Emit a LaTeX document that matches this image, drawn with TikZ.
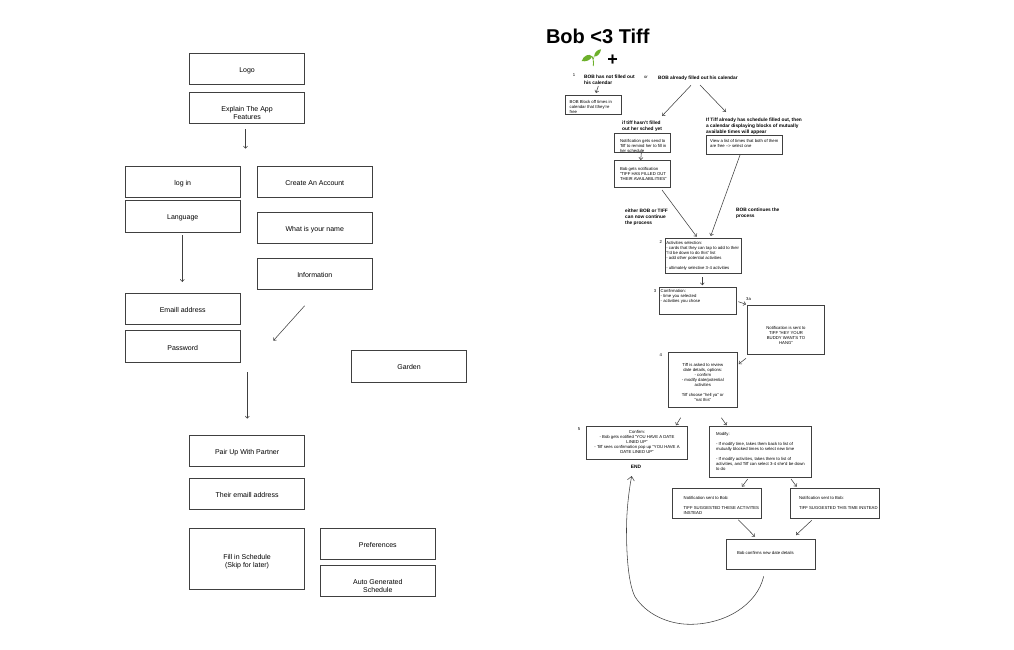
\documentclass[tikz,border=0pt]{standalone}
\usepackage{fontspec}
\setmainfont{Liberation Sans}
\usetikzlibrary{arrows.meta}
\definecolor{boxline}{HTML}{404040}
\definecolor{sprout}{HTML}{6DB02B}
\newcommand\bigf{\fontsize{7}{8}\selectfont}
\newcommand\smf{\fontsize{4.25}{5}\selectfont}
\newcommand\bdf{\fontsize{4.8}{6}\selectfont\bfseries}
\newcommand\lft[1]{\raggedright\leftskip=#1pt\relax}
% name,x1,y1,x2,y2,alignment,first baseline,font,text
\newcommand\tb[9]{%
  \pgfmathsetlengthmacro\bw{(#4-#2)*1pt}%
  \pgfmathsetlengthmacro\bh{(#5-#3)*1pt}%
  \pgfmathsetlengthmacro\pd{(#7-#3-8)*1pt}%
  \node[box] (#1) at (#2,#3) {\parbox[t][\bh][t]{\bw}{#6#8\hfuzz=50pt\vspace*{\pd}\leavevmode\rule{0pt}{8pt}#9}};}
\newcommand\arr[5]{%
  \coordinate (#1a) at (#2,#3);\coordinate (#1b) at (#4,#5);
  \draw[conn] (#1a) -- (#1b);}
\tikzset{
  x=1pt,y=-1pt,
  box/.style={draw=boxline,line width=0.7pt,anchor=north west,inner sep=0pt,outer sep=0pt},
  conn/.style={draw=boxline,line width=0.55pt,-{Straight Barb[length=2.2pt,width=4pt]}},
  bold/.style={anchor=north west,inner sep=0pt,align=left,font=\bdf},
  num/.style={inner sep=0pt,font=\smf},
}
\begin{document}
\begin{tikzpicture}
\useasboundingbox (0,0) rectangle (1014,649);
\fill[white] (0,0) rectangle (1014,649);
% left flow
\tb{logo}{189.5}{53.5}{304.7}{84.5}{\centering}{72.4}{\bigf}{Logo}
\tb{explain}{189.5}{92.5}{304.7}{123.5}{\centering}{111.5}{\fontsize{7}{7.7}\selectfont}{Explain The App\\Features}
\arr{a1}{245.5}{129}{245.5}{148.7}
\tb{login}{125.5}{166}{240}{197}{\centering}{185.5}{\bigf}{log in}
\tb{language}{125.5}{200}{240}{232}{\centering}{219.7}{\bigf}{Language}
\arr{a2}{182.3}{235}{182.3}{282}
\tb{create}{257.3}{166}{372.3}{197}{\centering}{185.5}{\bigf}{Create An Account}
\tb{name}{257.3}{212.3}{372.3}{243.7}{\centering}{231.5}{\bigf}{What is your name}
\tb{info}{257.3}{258.3}{372.3}{289.7}{\centering}{277.5}{\bigf}{Information}
\tb{email}{125.5}{293.3}{240}{324.7}{\centering}{312.5}{\bigf}{Emaill address}
\tb{password}{125.5}{330.7}{240}{362.3}{\centering}{350.2}{\bigf}{Password}
\arr{a3}{304.7}{305.7}{273.3}{340.7}
\tb{garden}{351.3}{350.3}{466.7}{382}{\centering}{369.9}{\bigf}{Garden}
\arr{a4}{247.3}{372}{247.3}{418.7}
\tb{pair}{189.5}{435.3}{304.7}{466.3}{\centering}{454.5}{\bigf}{Pair Up With Partner}
\tb{their}{189.5}{478.3}{304.7}{509.3}{\centering}{497.5}{\bigf}{Their emaill address}
\tb{fill}{189.5}{528}{304.7}{589.7}{\centering}{559.5}{\bigf}{Fill in Schedule\\(Skip for later)}
\tb{prefs}{320.3}{528}{435.3}{559.3}{\centering}{547.2}{\bigf}{Preferences}
\tb{auto}{320.3}{565.3}{435.3}{596.3}{\centering}{584.5}{\bigf}{Auto Generated\\Schedule}
% title
\node[anchor=base west,inner sep=0pt,font=\fontsize{20}{22}\selectfont\bfseries] (title) at (545.8,43.4) {Bob <3 Tiff};
% sprout
\fill[sprout] (594.1,56.5) .. controls (594.5,51.5) and (598,49.6) .. (601,49.3) .. controls (600.5,53) and (598,56.8) .. (594.1,56.5) -- cycle;
\fill[sprout] (592.2,56.4) .. controls (589,53) and (583.5,55.5) .. (581.7,61) .. controls (585.5,62) and (590.5,60.5) .. (592.2,56.4) -- cycle;
\draw[sprout,line width=0.8pt] (592.2,56.4) .. controls (593.4,58.5) and (593.6,62) .. (593.3,66);
\draw[sprout,line width=0.6pt] (593.4,59) .. controls (593.6,58) and (593.8,57.5) .. (594.1,56.5);
\node[inner sep=0pt,font=\fontsize{18}{18}\selectfont\bfseries] (plus) at (612.5,59.8) {+};
% right flow
\node[num] (n1) at (574,75) {1};
\node[bold] (bobnot) at (584,74.5) {BOB has not filled out\\his calendar};
\node[num] (or) at (646,77) {or};
\node[bold] (bobalready) at (658,75.6) {BOB already filled out his calendar};
\arr{b1}{598.3}{86}{596}{93}
\tb{block}{565.3}{95.3}{621.7}{114.7}{\lft{4.4}}{103.5}{\smf}{BOB Block off times in\\calendar that tthey're\\free}
\arr{b2}{691}{85.3}{662}{116}
\arr{b3}{700}{85}{726}{112}
\node[bold] (nosched) at (622,121.2) {if tiff hasn't filled\\out her sched yet};
\node[bold] (hassched) at (706,117.5) {If Tiff already has schedule filled out, then\\a calendar displaying blocks of mutually\\available times will appear};
\tb{notify}{614}{133.3}{670.7}{152.7}{\lft{6}}{142.2}{\smf}{Notification gets send to\\Tiff to remind her to fill in\\her schedule}
\arr{b4}{641.3}{153}{640.7}{160}
\tb{bobgets}{614}{160.3}{670.7}{187.7}{\lft{6}}{170.5}{\smf}{Bob gets notification\\``TIFF HAS FILLED OUT\\THEIR AVAILABILITIES''}
\tb{view}{706}{135}{782.7}{154}{\lft{4.2}}{142.5}{\smf}{View a list of times that both of them\\are free --> select one}
\arr{b5}{740}{155}{710.7}{236}
\arr{b6}{662}{190}{696.7}{236.7}
\node[bold] (either) at (625,208.4) {either BOB or TIFF\\can now continue\\the process};
\node[bold] (continues) at (736,207.4) {BOB continues the\\process};
\node[num] (n2) at (660.7,241.7) {2};
\tb{activities}{665.3}{238.3}{741.7}{273.3}{\lft{1}}{244}{\smf}{Activities selection:\\- cards that they can tap to add to their\\``i'd be down to do this'' list\\- add other potential activities\\[5pt]- ultimately selective 3-4 activities}
\arr{b7}{702.3}{277.3}{702.3}{285.3}
\node[num] (n3) at (655,291) {3};
\tb{confirmation}{659.3}{287.3}{736.7}{314.3}{\lft{1.4}}{292.5}{\smf}{Confirmation:\\- time you selected\\- activities you chose}
\node[num] (n3a) at (748.5,299) {3a};
\arr{b8}{738.3}{301.7}{746}{304.3}
\tb{sent}{747.3}{305.3}{824.7}{354.3}{\centering}{329}{\smf}{Notification is sent to\\TIFF ``HEY YOUR\\BUDDY WANTS TO\\HANG''}
\node[num] (n4) at (660.7,355) {4};
\arr{b9}{746}{358.3}{738.7}{364}
\tb{review}{668.3}{352.7}{737.3}{407.7}{\centering}{366.5}{\smf}{Tiff is asked to review\\date details, options:\\- confirm\\- modify date/potential\\activities\\[5pt]Tiff choose ``hell ya'' or\\``nat this''}
\arr{b10}{680.7}{417.7}{676}{425.3}
\arr{b11}{721.3}{417.7}{726.7}{425.3}
\node[num] (n5) at (579,429) {5};
\tb{confirm}{586.3}{426.3}{687.7}{459.7}{\centering}{433.2}{\smf}{Confirm:\\- Bob gets notified ``YOU HAVE A DATE\\LINED UP''\\- Tiff sees confirmation pop up ``YOU HAVE A\\DATE LINED UP''}
\node[inner sep=0pt,font=\bdf] (end) at (636,467) {END};
\tb{modify}{709.7}{426.3}{811.7}{477.3}{\lft{6.3}}{435.5}{\smf}{Modify:\\[5pt]- If modify time, takes them back to list of\\mutually blocked times to select new time\\[5pt]- If modify activities, takes them to list of\\activities, and Tiff can select 3-4 she'd be down\\to do}
\arr{b12}{747.7}{479}{742}{486.7}
\arr{b13}{791}{479}{796.7}{486.7}
\tb{notifl}{672.3}{488.3}{761.7}{518}{\lft{11.4}}{499.8}{\smf}{Notification sent to Bob:\\[5pt]TIFF SUGGESTED THESE ACTIVITES\\INSTEAD}
\tb{notifr}{790.3}{488.3}{879.7}{518}{\lft{8.7}}{499.8}{\smf}{Notification sent to Bob:\\[5pt]TIFF SUGGESTED THIS TIME INSTEAD}
\arr{b14}{738.3}{519.7}{755}{536.7}
\arr{b15}{811.7}{520.3}{796}{535}
\tb{bobconfirms}{726}{539.3}{815}{569.3}{\lft{11}}{554.2}{\smf}{Bob confirms new date details}
\coordinate (loopa) at (763.7,576.3);
\coordinate (loopb) at (631.7,476);
\draw[draw=boxline,line width=0.55pt,-{Straight Barb[length=4pt,width=7pt]}] (loopa) .. controls (757,605) and (725,624.3) .. (690,624.3) .. controls (668,624.3) and (646,614) .. (635,596.7) .. controls (629,585) and (626.5,560) .. (626.5,530) .. controls (626.5,510) and (629,490) .. (loopb);
\end{tikzpicture}
\end{document}
